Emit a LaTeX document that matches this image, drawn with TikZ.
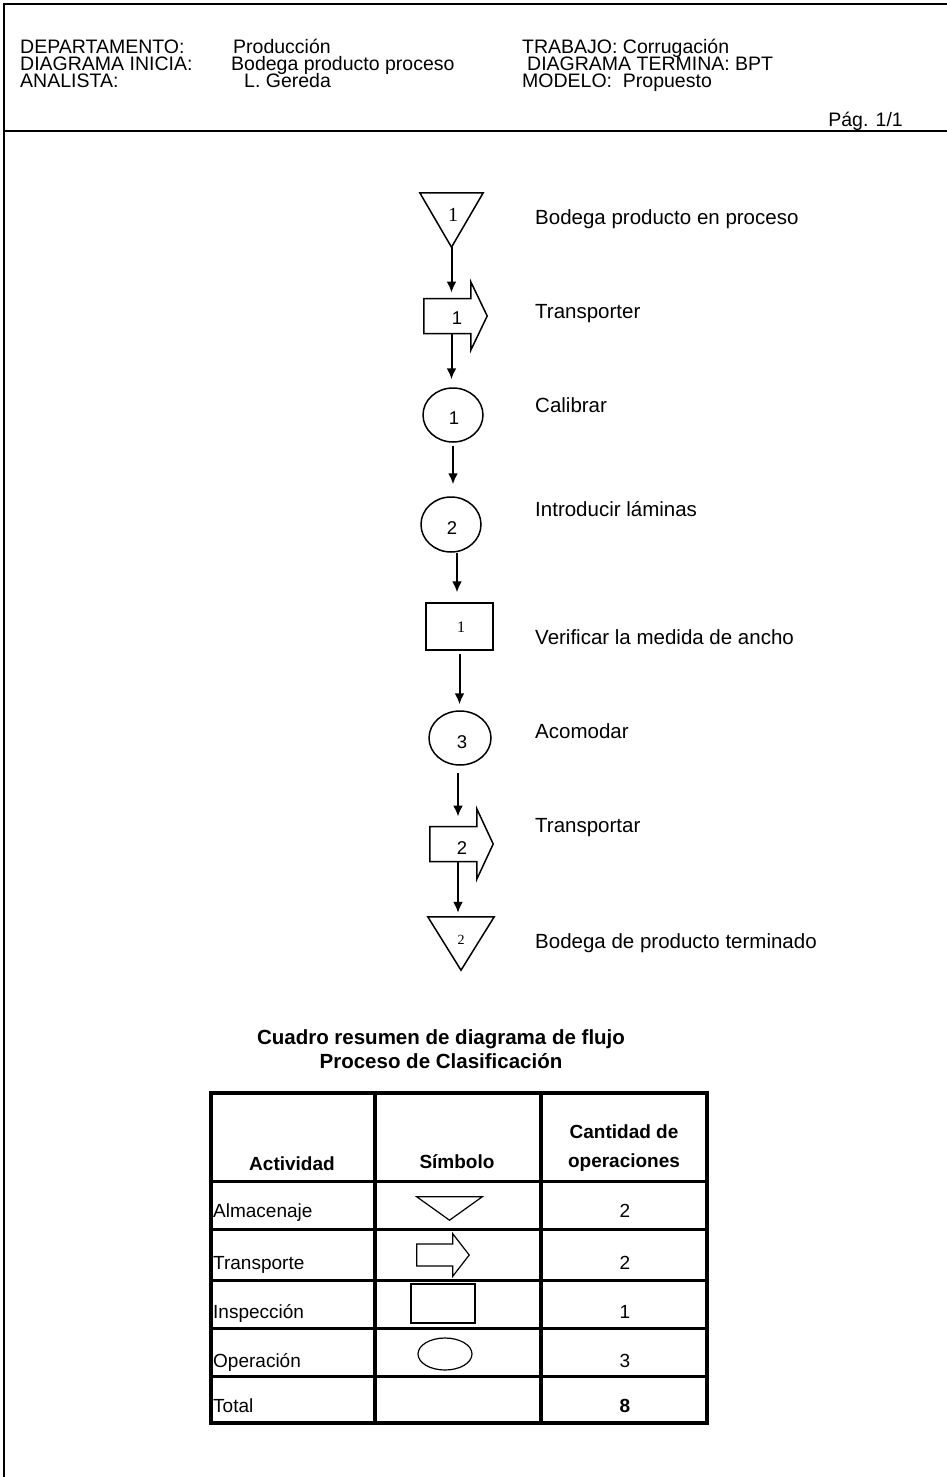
\documentclass[tikz,border=0pt]{standalone}
\usepackage{fontspec}
\setmainfont{Liberation Sans}
\newfontfamily\tnr{Liberation Serif}
\usetikzlibrary{arrows.meta,shapes.geometric,calc}

\begin{document}
\begin{tikzpicture}[x=1pt,y=-1pt,
  hd/.style={anchor=base west, inner sep=0, font=\fontsize{19.5}{22}\selectfont},
  lbl/.style={anchor=base west, inner sep=0, font=\fontsize{20.5}{23}\selectfont},
  num/.style={inner sep=0, font=\fontsize{18.5}{20}\selectfont},
  snum/.style={inner sep=0, font=\tnr\fontsize{#1}{#1}\selectfont},
  box/.style={draw=none, inner sep=0, minimum width=#1},
  oper/.style={ellipse, draw, line width=1.5, inner sep=0},
  outline/.style={line width=1.5, line join=miter},
  flow/.style={line width=2, -{Latex[length=11pt,width=10pt]}},
  grid/.style={line width=3},
  thick grid/.style={line width=4.5},
  th/.style={inner sep=0, font=\bfseries\fontsize{19}{22}\selectfont},
  ttl/.style={inner sep=0, anchor=base, font=\bfseries\fontsize{20.5}{23}\selectfont},
  td/.style={inner sep=0, anchor=base west, font=\fontsize{19}{22}\selectfont},
  tn/.style={inner sep=0, anchor=base, font=\fontsize{19}{22}\selectfont},
  sym/.style={line width=1.2}
]
\useasboundingbox (0,0) rectangle (947,1477);

% page frame and header rule
\draw[line width=2.5] (947,4) -- (4,4) -- (4,1477);
\draw[line width=1.2] (4,131) -- (947,131);

% header block
\node[hd] (h1a) at (20,54) {DEPARTAMENTO:};
\node[hd] (h1b) at (233,54) {Producción};
\node[hd] (h1c) at (522,54) {TRABAJO: Corrugación};
\node[hd] (h2a) at (20,71) {DIAGRAMA INICIA:};
\node[hd] (h2b) at (231,71) {Bodega producto proceso};
\node[hd] (h2c) at (527,71) {DIAGRAMA TERMINA: BPT};
\node[hd] (h3a) at (20,88) {ANALISTA:};
\node[hd] (h3b) at (244,88) {L. Gereda};
\node[hd] (h3c) at (522,88) {MODELO:\ \ Propuesto};
\node[hd, anchor=base east] (pag) at (903,127) {Pág. 1/1};

% ---- process chart ----
% storage 1
\node[box=63, minimum height=54] (st1) at (451.5,220) {};
\draw[outline] (st1.north west) -- (st1.north east) -- (st1.south) -- cycle;
\node[snum=20] (st1n) at (453,215) {1};

% transport 1
\node[box=63, minimum height=68] (tr1) at (455.5,316) {};
\draw[outline] ($(tr1.west)+(0,-17.5)$) -- ($(tr1.west)+(47,-17.5)$)
  -- ($(tr1.north west)+(47,0)$) -- (tr1.east) -- ($(tr1.south west)+(47,0)$)
  -- ($(tr1.west)+(47,17.5)$) -- ($(tr1.west)+(0,17.5)$) -- cycle;
\coordinate (tr1top) at ($(tr1.center)+(0,-17.5)$);
\coordinate (tr1bot) at ($(tr1.center)+(0,17.5)$);
\node[num] (tr1n) at (457,318) {1};

% operations and inspection
\node[oper, minimum width=60, minimum height=54] (op1) at (453,415) {};
\node[num] (op1n) at (454,418) {1};
\node[oper, minimum width=60, minimum height=55] (op2) at (451,524.5) {};
\node[num] (op2n) at (452,528) {2};
\node[draw, line width=1.5, inner sep=0, minimum width=67, minimum height=47] (in1) at (459.5,626.5) {};
\node[snum=16] (in1n) at (461,627) {1};
\node[oper, minimum width=62, minimum height=54] (op3) at (460,738) {};
\node[num] (op3n) at (462,742) {3};

% transport 2
\node[box=63, minimum height=70] (tr2) at (461.5,844) {};
\draw[outline] ($(tr2.west)+(0,-17.5)$) -- ($(tr2.west)+(47,-17.5)$)
  -- ($(tr2.north west)+(47,0)$) -- (tr2.east) -- ($(tr2.south west)+(47,0)$)
  -- ($(tr2.west)+(47,17.5)$) -- ($(tr2.west)+(0,17.5)$) -- cycle;
\coordinate (tr2top) at ($(tr2.center)+(0,-17.5)$);
\coordinate (tr2bot) at ($(tr2.center)+(0,17.5)$);
\node[num] (tr2n) at (462,848) {2};

% storage 2
\node[box=66, minimum height=53] (st2) at (461,943.5) {};
\draw[outline] (st2.north west) -- (st2.north east) -- (st2.south) -- cycle;
\node[snum=14] (st2n) at (461,940) {2};

% connectors
\draw[flow, shorten >=6] (st1.south) -- (st1.south |- tr1top);
\draw[flow, shorten >=8] (st1.south |- tr1bot) -- (st1.south |- op1.north);
\draw[flow, shorten <=3, shorten >=12] (op1.south) -- (op1.south |- op2.north);
\draw[flow, shorten >=10] (op2.south -| 457,0) -- (in1.north -| 457,0);
\draw[flow, shorten <=3, shorten >=6] (in1.south) -- (in1.south |- op3.north);
\draw[flow, shorten <=7, shorten >=10] (op3.south -| 458,0) -- (tr2top -| 458,0);
\draw[flow, shorten >=4] (tr2bot -| 458,0) -- (st2.north -| 458,0);

% step descriptions
\node[lbl] (d1) at (535,224.5) {Bodega producto en proceso};
\node[lbl] (d2) at (535,318.5) {Transporter};
\node[lbl] (d3) at (535,412.5) {Calibrar};
\node[lbl] (d4) at (535,516.5) {Introducir láminas};
\node[lbl] (d5) at (535,644.5) {Verificar la medida de ancho};
\node[lbl] (d6) at (535,738.5) {Acomodar};
\node[lbl] (d7) at (535,832.5) {Transportar};
\node[lbl] (d8) at (535,948.5) {Bodega de producto terminado};

% ---- summary table ----
\node[ttl] (t1) at (441,1044) {Cuadro resumen de diagrama de flujo};
\node[ttl] (t2) at (441,1068) {Proceso de Clasificación};

\foreach \y in {1181,1229,1280,1328,1376}
  \draw[grid] (211,\y) -- (707,\y);
\draw[thick grid] (375,1093) -- (375,1423);
\draw[thick grid] (541,1093) -- (541,1423);
\draw[thick grid] (211,1093) rectangle (707,1423);

\node[th] (ca) at (292,1164) {Actividad};
\node[th] (cb) at (457,1162) {Símbolo};
\node[th, align=center, font=\bfseries\fontsize{19}{29}\selectfont] (cc) at (624,1148) {Cantidad de\\operaciones};

\node[td] (r1) at (213,1217) {Almacenaje};
\node[td] (r2) at (213,1269) {Transporte};
\node[td] (r3) at (213,1318) {Inspección};
\node[td] (r4) at (213,1367) {Operación};
\node[td] (r5) at (213,1412) {Total};

\node[tn] (n1) at (625,1217) {2};
\node[tn] (n2) at (625,1269) {2};
\node[tn] (n3) at (625,1318) {1};
\node[tn] (n4) at (625,1367) {3};
\node[tn, font=\bfseries\fontsize{19}{22}\selectfont] (n5) at (625,1412) {8};

% legend symbols
\node[box=65, minimum height=23] (ks) at (449.5,1208.5) {};
\draw[sym] (ks.north west) -- (ks.north east) -- (ks.south) -- cycle;
\node[box=52, minimum height=42] (kt) at (443,1255) {};
\draw[sym] ($(kt.west)+(0,-11)$) -- ($(kt.west)+(36,-11)$)
  -- ($(kt.north west)+(36,0)$) -- (kt.east) -- ($(kt.south west)+(36,0)$)
  -- ($(kt.west)+(36,11)$) -- ($(kt.west)+(0,11)$) -- cycle;
\node[draw, line width=1.2, inner sep=0, minimum width=64, minimum height=39] (ki) at (443,1303.5) {};
\node[ellipse, draw, line width=1.2, inner sep=0, minimum width=54, minimum height=32] (ko) at (445,1354) {};
\end{tikzpicture}
\end{document}
